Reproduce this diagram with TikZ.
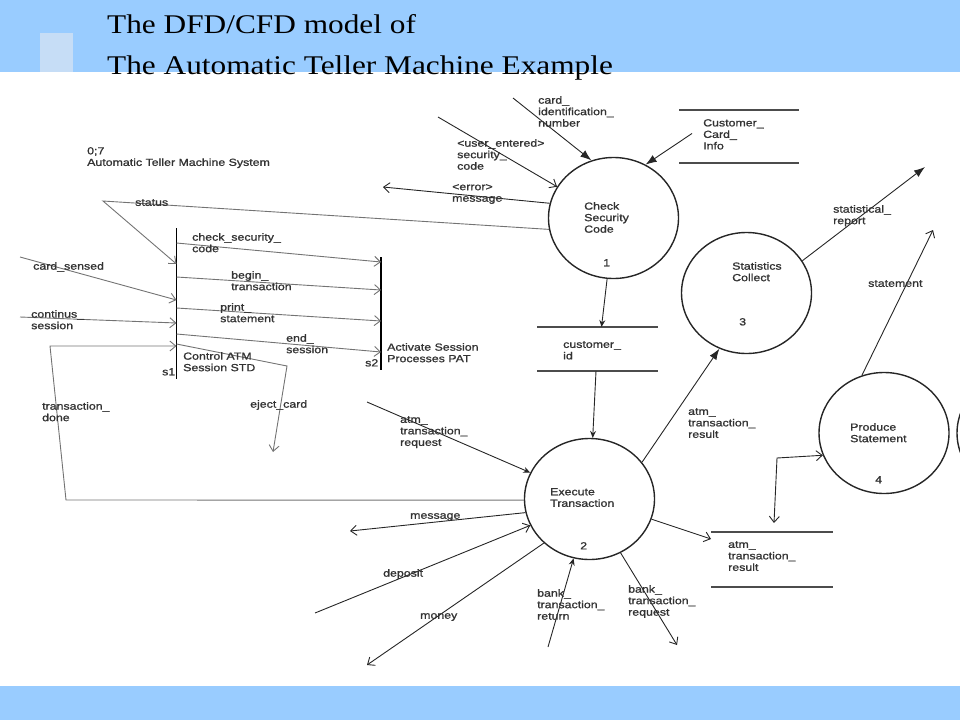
\documentclass[tikz,border=0pt]{standalone}
\usepackage{fontspec}
\setmainfont{Liberation Serif}
\newfontfamily\lblfont[FakeStretch=1.2,FakeBold=1.2]{Liberation Sans}
\newfontfamily\titlefont[FakeStretch=1.16]{Liberation Serif}
\usetikzlibrary{arrows.meta,shapes.geometric}
\definecolor{band}{HTML}{99CCFF}
\definecolor{sqcol}{HTML}{C6DDF6}
\begin{document}
\begin{tikzpicture}[x=1pt,y=-1pt,
  lbl/.style={font=\lblfont\fontsize{10.3}{11.5}\selectfont, inner sep=0, anchor=north west, align=left, text=black!80},
  ttl/.style={font=\titlefont\fontsize{27}{30}\selectfont, inner sep=0, anchor=base west},
  proc/.style={draw=black!85, line width=1.4pt, ellipse, minimum width=130pt, minimum height=121pt, inner sep=0},
  store/.style={inner sep=0, outer sep=0},
  storeline/.style={draw=black!70, line width=1.8pt},
  bar/.style={inner sep=0, outer sep=0, minimum width=0pt},
  barline/.style={draw=black, line width=1.6pt},
  gline/.style={draw=black!55, line width=0.9pt},
  dline/.style={draw=black!85, line width=0.9pt},
  oarr/.style={-{Straight Barb[length=6pt,width=10pt]}},
  barb2/.style={{Straight Barb[length=6pt,width=10pt]}-{Straight Barb[length=6pt,width=10pt]}},
  farr/.style={-{Latex[length=11pt,width=8pt]}},
  sarr/.style={-{Stealth[length=7pt,width=6pt]}}
]
\useasboundingbox (0,0) rectangle (960,720);
% header and footer bands
\fill[band] (0,0) rectangle (960,72);
\fill[sqcol] (40,33) rectangle (73,72);
\fill[band] (0,686) rectangle (960,720);
\node[ttl] (t1) at (107,33) {The DFD/CFD model of};
\node[ttl] (t2) at (107,74) {The Automatic Teller Machine Example};

% processes
\node[proc] (csc) at (613.5,218) {};
\node[proc] (st) at (746.5,293) {};
\node[proc] (ps) at (884,433) {};
\node[proc] (et) at (589.5,499) {};
\node[proc] (pe) at (1022,433) {};

% stores
\node[store, minimum width=120pt, minimum height=53pt] (cci) at (739,136.5) {};
\node[store, minimum width=121pt, minimum height=44pt] (cid) at (597.5,349) {};
\node[store, minimum width=122pt, minimum height=55pt] (atr) at (772,559.5) {};
\foreach \s in {cci,cid,atr}{
  \draw[storeline] (\s.north west) -- (\s.north east) (\s.south west) -- (\s.south east);
}

% STD bars
\node[bar, minimum height=151pt] (s1) at (176.5,303.5) {};
\node[bar, minimum height=113pt] (s2) at (381,313.5) {};
\draw[barline] (s1.north) -- (s1.south);
\draw[barline] (s2.north) -- (s2.south);

% free end points
\coordinate (stb) at (103,201);
\coordinate (cs0) at (20,257);
\coordinate (co0) at (20,317);
\coordinate (td1) at (66,500);
\coordinate (td2) at (50,346);
\coordinate (ej1) at (287,366);
\coordinate (ej2) at (273,452);
\coordinate (em1) at (383,187);
\coordinate (ci0) at (513,98);
\coordinate (ue0) at (438,117);
\coordinate (ar0) at (367,402);
\coordinate (sr1) at (925,167);
\coordinate (sm1) at (933,230);
\coordinate (pb) at (777,458);
\coordinate (ms1) at (350,531);
\coordinate (dp0) at (315,613);
\coordinate (mo1) at (367,665);
\coordinate (br0) at (548,647);
\coordinate (bq1) at (677,645);

% STD flows
\draw[gline,oarr] ([yshift=-15pt]s1.north) -- ([yshift=-5pt]s2.north);
\draw[gline,oarr] ([yshift=-49pt]s1.north) -- ([yshift=-33pt]s2.north);
\draw[gline,oarr] ([yshift=-80pt]s1.north) -- ([yshift=-64pt]s2.north);
\draw[gline,oarr] ([yshift=-106pt]s1.north) -- ([yshift=-95pt]s2.north);
\draw[gline,oarr] (csc.190) -- (stb) -- ([yshift=-36pt]s1.north);
\draw[gline,oarr] (cs0) -- ([yshift=-72pt]s1.north);
\draw[gline,oarr] (co0) -- ([yshift=-95pt]s1.north);
\draw[gline,oarr] (et.181) -- (td1) -- (td2) -- ([yshift=-118pt]s1.north);
\draw[gline,oarr] ([yshift=-116pt]s1.north) -- (ej1) -- (ej2);

% DFD flows
\draw[dline,oarr] (csc.167) -- (em1);
\draw[dline,farr] (ci0) -- (csc.111);
\draw[dline,oarr] (ue0) -- (csc.151);
\draw[dline,farr] ([xshift=13pt,yshift=3pt]cci.west) -- (csc.59);
\draw[dline,sarr] (csc.264) -- ([xshift=4pt]cid.north);
\draw[dline,sarr] ([xshift=-1.5pt]cid.south) -- (et.87);
\draw[dline,sarr] (ar0) -- (et.156);
\draw[dline,farr] (et.35) -- (st.244);
\draw[dline,farr] (st.30) -- (sr1);
\draw[dline,oarr] (ps.111) -- (sm1);
\draw[dline,barb2] ([xshift=2pt,yshift=9pt]atr.north) -- (pb) -- (ps.200);
\draw[dline,oarr] (et.342) -- ([yshift=-7pt]atr.north west);
\draw[dline,oarr] (et.192) -- (ms1);
\draw[dline,oarr] (dp0) -- (et.204);
\draw[dline,oarr] (et.224) -- (mo1);
\draw[dline,sarr] (br0) -- (et.255);
\draw[dline,oarr] (et.300) -- (bq1);

% labels
\node[lbl] (l1) at (87,147) {0;7\\Automatic Teller Machine System};
\node[lbl] (l2) at (135,199) {status};
\node[lbl] (l3) at (192,233) {check\_security\_\\code};
\node[lbl] (l4) at (231,271) {begin\_\\transaction};
\node[lbl] (l5) at (220,303) {print\_\\statement};
\node[lbl] (l6) at (286,334) {end\_\\session};
\node[lbl] (l7) at (183,352) {Control ATM\\Session STD};
\node[lbl] (l8) at (162,368) {s1};
\node[lbl] (l9) at (387,343) {Activate Session\\Processes PAT};
\node[lbl] (l10) at (365,359) {s2};
\node[lbl] (l11) at (33,262) {card\_sensed};
\node[lbl] (l12) at (31,310) {continus\_\\session};
\node[lbl] (l13) at (42,402) {transaction\_\\done};
\node[lbl] (l14) at (250,400) {eject\_card};
\node[lbl] (l15) at (538,96) {card\_\\identification\_\\number};
\node[lbl] (l16) at (457,139) {<user\_entered>\\security\_\\code};
\node[lbl] (l17) at (452,184) {<error>\\message};
\node[lbl] (l18) at (584,202) {Check\\Security\\Code};
\node[lbl] (l19) at (603,259) {1};
\node[lbl] (l20) at (703,119) {Customer\_\\Card\_\\Info};
\node[lbl] (l21) at (732,262) {Statistics\\Collect};
\node[lbl] (l22) at (739,318) {3};
\node[lbl] (l23) at (833,205) {statistical\_\\report};
\node[lbl] (l24) at (868,280) {statement};
\node[lbl] (l25) at (850,423) {Produce\\Statement};
\node[lbl] (l26) at (875,476) {4};
\node[lbl] (l27) at (563,341) {customer\_\\id};
\node[lbl] (l28) at (400,416) {atm\_\\transaction\_\\request};
\node[lbl] (l29) at (550,488) {Execute\\Transaction};
\node[lbl] (l30) at (580,542) {2};
\node[lbl] (l31) at (688,408) {atm\_\\transaction\_\\result};
\node[lbl] (l32) at (728,541) {atm\_\\transaction\_\\result};
\node[lbl] (l33) at (410,513) {message};
\node[lbl] (l34) at (383,569) {deposit};
\node[lbl] (l35) at (420,613) {money};
\node[lbl] (l36) at (537,589) {bank\_\\transaction\_\\return};
\node[lbl] (l37) at (628,585) {bank\_\\transaction\_\\request};
\end{tikzpicture}
\end{document}
